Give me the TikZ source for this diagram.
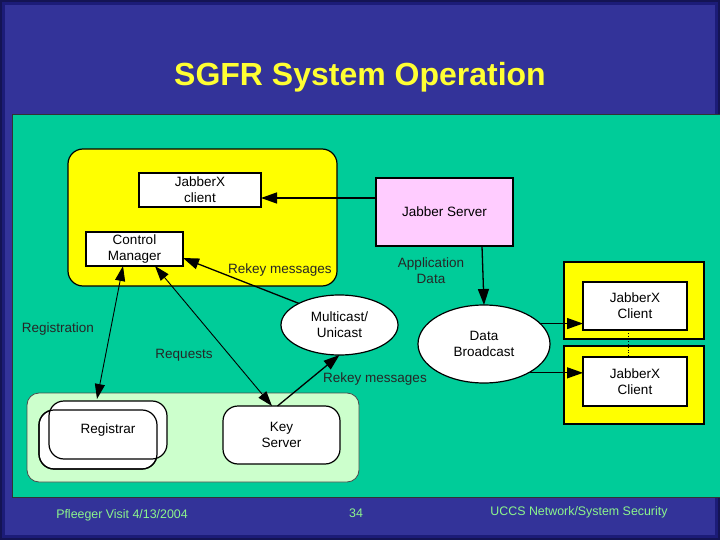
\documentclass[tikz,border=0pt]{standalone}
\usepackage{fontspec}
\setmainfont{Liberation Sans}
\usetikzlibrary{shapes.geometric,arrows.meta,calc}
\definecolor{slide}{HTML}{333399}
\definecolor{slidedark}{HTML}{1C1C78}
\definecolor{panel}{HTML}{00CC99}
\definecolor{ylw}{HTML}{FFFF00}
\definecolor{pinkbox}{HTML}{FFCCFF}
\definecolor{lgreen}{HTML}{CCFFCC}
\definecolor{foot}{HTML}{8CF58C}
\definecolor{titley}{HTML}{FFFF33}
\newcommand{\dfont}{\fontsize{13.5}{16}\selectfont}
\tikzset{
  box/.style={draw, line width=1.2pt, fill=white, align=center, inner sep=0pt, outer sep=0pt, font=\dfont},
  rbox/.style={box, rounded corners=15pt},
  ell/.style={ellipse, draw, line width=1.2pt, fill=white, align=center, inner sep=0pt, outer sep=0pt, font=\dfont},
  ybox/.style={draw, line width=1.2pt, fill=ylw, inner sep=0pt, outer sep=0pt},
  lab/.style={font=\dfont, align=center, text=black!85},
  tip/.style={},
  arr/.style={line width=1.3pt, -{Triangle[length=16pt,width=11pt]}},
  darr/.style={line width=0.9pt, {Triangle[length=15pt,width=10pt]}-{Triangle[length=15pt,width=10pt]}},
  ftxt/.style={font=\fontsize{12.4}{14}\selectfont, text=foot}
}
\begin{document}
\begin{tikzpicture}[x=1pt,y=-1pt]
\useasboundingbox (0,0) rectangle (720,540);
% slide background
\fill[slide] (0,0) rectangle (720,540);
\draw[slidedark, line width=10pt] (0,0) rectangle (720,540);
\draw[slidedark!70!black, line width=4pt] (0,0) rectangle (720,540);
% title
\node[font=\bfseries\fontsize{32}{36}\selectfont, text=titley] (title) at (360,77) {SGFR System Operation};
% panel
\fill[panel] (12,114) rectangle (722,497);
\draw[black!80, line width=0.8pt] (12,114) rectangle (722,497);

% big yellow group
\node[ybox, rounded corners=15pt, minimum width=269pt, minimum height=137pt] (yb) at (202.5,217.5) {};
\node[box, minimum width=122pt, minimum height=34pt] (jxc) at (200,190) {JabberX\\client};
\node[box, minimum width=97pt, minimum height=34pt] (cm) at (134.5,249) {Control\\Manager};
\node[lab] (rk1) at (280,270) {Rekey messages};

% Jabber server
\node[box, fill=pinkbox, minimum width=137pt, minimum height=68pt] (js) at (444.5,212) {Jabber Server};
\node[lab] (appd) at (431,271) {Application\\Data};

% ellipses
\node[ell, minimum width=132pt, minimum height=78pt] (db) at (484,344) {Data\\Broadcast};
\node[ell, minimum width=117pt, minimum height=60pt] (mc) at (339.5,325) {Multicast/\\Unicast};

% right clients
\node[ybox, minimum width=140pt, minimum height=77pt] (yb1) at (634,300.5) {};
\node[ybox, minimum width=140pt, minimum height=78pt] (yb2) at (634,385) {};
\node[box, minimum width=104pt, minimum height=48pt] (c1) at (635,306) {JabberX\\Client};
\node[box, minimum width=104pt, minimum height=49pt] (c2) at (635,381.5) {JabberX\\Client};

% light green group
\node[draw=black!70, line width=0.8pt, fill=lgreen, rounded corners=12pt, minimum width=332pt, minimum height=89pt, inner sep=0pt] (lg) at (193,437.5) {};
\node[rbox, minimum width=118pt, minimum height=59pt] (regB) at (98,439.5) {};
\node[rbox, minimum width=118pt, minimum height=58pt] (regA) at (108,430) {Registrar};
\draw[line width=1.2pt, rounded corners=15pt] (regB.south west) rectangle (regB.north east);
\node[rbox, minimum width=117pt, minimum height=58pt] (ks) at (281.5,435) {Key\\Server};

% labels
\node[lab] (lreg) at (58,329) {Registration};
\node[lab] (lreq) at (184,355) {Requests};
\node[lab] (rk2) at (375,379) {Rekey messages};

% connectors
\draw[arr] ([yshift=14pt]js.west) -- ([yshift=-8pt]jxc.east);
\draw[arr] ([xshift=37.5pt]js.south) -- (db.north);
\draw[arr] (db.20) -- (db.20 -| c1.west);
\draw[arr] (db.-33) -- (db.-33 -| c2.west);
\draw[line width=0.8pt, dotted] ([xshift=-7pt]c1.south) -- ([xshift=-7pt]c2.north);
\draw[arr] (mc.152) -- ([yshift=-9pt]cm.east);
\draw[arr] ([xshift=-4pt]ks.north) -- (mc.south);
\draw[darr] ([xshift=-11.5pt]cm.south) -- ([xshift=-11pt,yshift=2pt]regA.north);
\draw[darr] ([xshift=20.5pt]cm.south) -- ([xshift=-9.5pt]ks.north);

% footer
\node[ftxt] (f1) at (122,515) {Pfleeger Visit 4/13/2004};
\node[ftxt] (f2) at (356,513) {34};
\node[ftxt] (f3) at (579,512) {UCCS Network/System Security};
\end{tikzpicture}
\end{document}
